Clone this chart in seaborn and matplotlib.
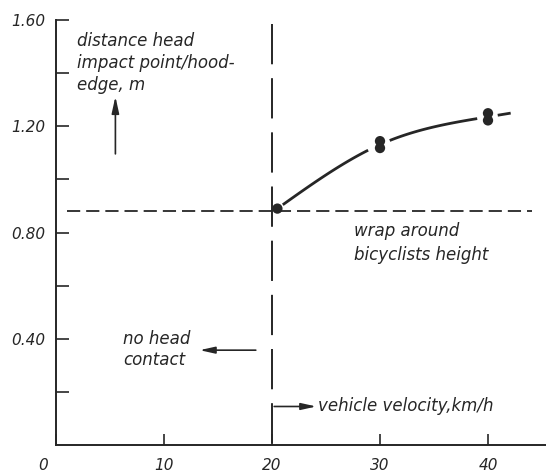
import numpy as np
import pandas as pd
import matplotlib
matplotlib.use("Agg")
import matplotlib.pyplot as plt
from matplotlib.transforms import ScaledTranslation
import seaborn as sns

# Measured head-impact distances (m) against vehicle velocity (km/h)
velocity = [20.5, 30, 30, 40, 40]
distance = [0.89, 1.144, 1.118, 1.249, 1.222]

bicyclist_height = 0.88      # wrap-around reference level
contact_velocity = 20        # below this speed there is no head contact

x_ticks = [0, 10, 20, 30, 40]
x_tick_labels = ["0", "10", "20", "30", "40"]
y_major = [0.40, 0.80, 1.20, 1.60]
y_major_labels = ["0.40", "0.80", "1.20", "1.60"]
y_minor = [0.20, 0.60, 1.00, 1.40]

ink = "#262626"
PX_PER_KMH = 10.8


def natural_spline(xk, yk):
    """Natural cubic spline through the knots, extended linearly at the ends."""
    xk = np.asarray(xk, float)
    yk = np.asarray(yk, float)
    n = len(xk)
    h = np.diff(xk)
    A = np.zeros((n, n))
    r = np.zeros(n)
    A[0, 0] = A[-1, -1] = 1.0
    for i in range(1, n - 1):
        A[i, i - 1] = h[i - 1]
        A[i, i] = 2 * (h[i - 1] + h[i])
        A[i, i + 1] = h[i]
        r[i] = 6 * ((yk[i + 1] - yk[i]) / h[i] - (yk[i] - yk[i - 1]) / h[i - 1])
    M = np.linalg.solve(A, r)
    end_slope = (yk[-1] - yk[-2]) / h[-1] + h[-1] * (2 * M[-1] + M[-2]) / 6

    def f(x):
        x = np.asarray(x, float)
        out = np.empty_like(x)
        for j, xv in enumerate(x):
            if xv >= xk[-1]:
                out[j] = yk[-1] + end_slope * (xv - xk[-1])
                continue
            i = min(max(np.searchsorted(xk, xv) - 1, 0), n - 2)
            a = (xk[i + 1] - xv) / h[i]
            b = (xv - xk[i]) / h[i]
            out[j] = (a * yk[i] + b * yk[i + 1]
                      + ((a ** 3 - a) * M[i] + (b ** 3 - b) * M[i + 1]) * h[i] ** 2 / 6)
        return out
    return f


sns.set_style("white")
plt.rcParams["font.family"] = ["DejaVu Sans"]
plt.rcParams["lines.scale_dashes"] = False

fig = plt.figure(figsize=(5.46, 4.72), dpi=100)
ax = fig.add_axes([56 / 546, 1 - 445 / 472, 1 - 56 / 546, (445 - 20) / 472])

df = pd.DataFrame({"velocity": velocity, "distance": distance})

# Trend curve through the mean distance at each speed, drawn in pieces
# that stop short of the measured points
means = df.groupby("velocity")["distance"].mean()
trend = natural_spline(means.index.values, means.values)
pieces = [(21.0, 28.9), (30.9, 39.0), (40.9, 42.1)]
for lo, hi in pieces:
    xs = np.linspace(lo, hi, 40)
    sns.lineplot(x=xs, y=trend(xs), ax=ax, color=ink, lw=2.0,
                 solid_capstyle="butt")

sns.scatterplot(data=df, x="velocity", y="distance", ax=ax, s=55,
                color=ink, edgecolor="none", zorder=5)

# Reference lines
ax.plot([contact_velocity, contact_velocity], [1.585, 0.0], color=ink,
        lw=1.4, linestyle=(0, (29, 10)))
ax.plot([1.0, 44.1], [bicyclist_height, bicyclist_height], color=ink,
        lw=1.3, linestyle=(0, (9.5, 4.3)))

tfont = dict(fontsize=12, style="italic", color=ink)
arrow = dict(color=ink, lw=1.2, shrinkA=0, shrinkB=0)

ax.text(1.96, 1.555, "distance head\nimpact point/hood-\nedge, m",
        ha="left", va="top", linespacing=1.3, **tfont)
ax.annotate("", xy=(5.5, 1.312), xytext=(5.5, 1.096),
            arrowprops=dict(arrowstyle="-|>,head_length=1.0,head_width=0.22", **arrow))

ax.text(27.6, 0.838, "wrap around\nbicyclists height",
        ha="left", va="top", linespacing=1.4, **tfont)

ax.text(6.2, 0.434, "no head\ncontact",
        ha="left", va="top", linespacing=1.22, **tfont)
ax.annotate("", xy=(13.3, 0.357), xytext=(18.5, 0.357),
            arrowprops=dict(arrowstyle="-|>,head_length=0.9,head_width=0.2", **arrow))

ax.annotate("", xy=(24.1, 0.145), xytext=(20.2, 0.145),
            arrowprops=dict(arrowstyle="-|>,head_length=0.9,head_width=0.2", **arrow))
ax.text(24.3, 0.145, "vehicle velocity,km/h", ha="left", va="center", **tfont)

# Axes
ax.set_xlim(0, (546 - 56) / PX_PER_KMH)
ax.set_ylim(0.0, 1.60)
ax.set_xlabel("")
ax.set_ylabel("")
for side in ("top", "right"):
    ax.spines[side].set_visible(False)
for side in ("left", "bottom"):
    ax.spines[side].set_color(ink)
    ax.spines[side].set_linewidth(1.4)

ax.set_xticks(x_ticks)
ax.set_xticklabels(x_tick_labels)
ax.set_yticks(y_major)
ax.set_yticklabels(y_major_labels)
ax.set_yticks(y_minor, minor=True)

ax.tick_params(axis="x", bottom=True, direction="in", length=8, width=1.2,
               color=ink, pad=9, labelsize=11, labelcolor=ink)
ax.tick_params(axis="y", which="both", left=True, direction="in", length=9,
               width=1.2, color=ink, pad=8, labelsize=11, labelcolor=ink)
for lab in ax.get_xticklabels() + ax.get_yticklabels():
    lab.set_fontstyle("italic")
# the origin label sits a little left of the axis corner
zero = ax.get_xticklabels()[0]
zero.set_transform(zero.get_transform() + ScaledTranslation(-13 / 100, 0, fig.dpi_scale_trans))

fig.savefig("out.png", dpi=100)
